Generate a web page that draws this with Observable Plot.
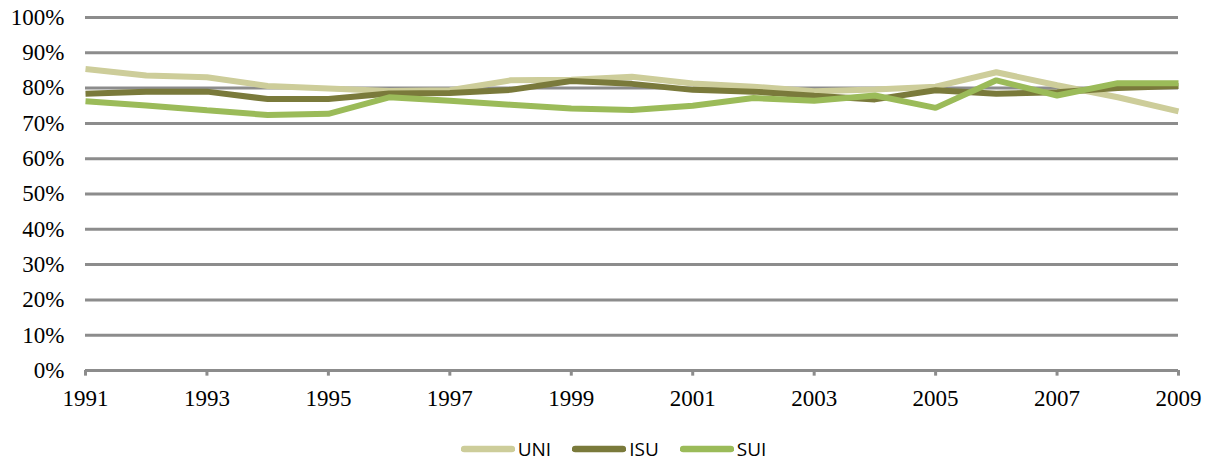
<!DOCTYPE html>
<html>
<head>
<meta charset="utf-8">
<script src="https://cdn.jsdelivr.net/npm/d3@7"></script>
<script src="https://cdn.jsdelivr.net/npm/@observablehq/plot@0.6"></script>
<style>
  body { margin: 0; background: #fff; }
  #chart { width: 1214px; position: relative; }
  .legend { display: flex; justify-content: center; align-items: center; margin-top: 17px; height: 24px;
    font-family: "Open Sans", "Liberation Sans", sans-serif; font-size: 19px; color: #000; padding-left: 34px; }
  .legend span.item { display: flex; align-items: center; gap: 3px; margin-right: 21px; }
  .legend svg { display: block; }
</style>
</head>
<body>
<div id="chart"></div>
<script>
const years = [1991,1992,1993,1994,1995,1996,1997,1998,1999,2000,2001,2002,2003,2004,2005,2006,2007,2008,2009];
const uni = [85.4,83.6,83.1,80.6,79.9,79.2,79.4,82.2,82.4,83.2,81.3,80.4,79.1,79.6,80.4,84.5,80.8,77.4,73.4];
const isu = [78.4,79.0,79.0,76.9,76.9,78.5,78.6,79.5,82.0,81.2,79.5,79.0,77.8,76.8,79.4,78.4,78.8,80.0,80.6];
const sui = [76.3,75.1,73.7,72.4,72.7,77.4,76.4,75.3,74.2,73.8,75.0,77.2,76.4,77.9,74.4,82.2,77.9,81.4,81.4];
const seriesNames = ["UNI","ISU","SUI"];
const seriesColors = ["#cdcd9a","#7a7a3b","#9bbb59"];
const yTicks = [0,0.1,0.2,0.3,0.4,0.5,0.6,0.7,0.8,0.9,1.0];
const xTicks = [1991,1993,1995,1997,1999,2001,2003,2005,2007,2009];

const rows = [];
[uni, isu, sui].forEach((vals, i) => {
  vals.forEach((v, j) => rows.push({series: seriesNames[i], year: years[j], value: v / 100}));
});

const plot = Plot.plot({
  width: 1214,
  height: 420,
  marginLeft: 85,
  marginRight: 36,
  marginTop: 17,
  marginBottom: 50,
  style: {fontFamily: "'Liberation Serif', 'Times New Roman', serif", fontSize: "23px", color: "#000", background: "#fff"},
  x: {domain: [1991, 2009], label: null},
  y: {domain: [0, 1], label: null},
  color: {domain: seriesNames, range: seriesColors},
  marks: [
    Plot.ruleY(yTicks, {stroke: "#8c8c8c", strokeWidth: 3, strokeLinecap: "butt"}),
    Plot.axisY({ticks: yTicks, tickFormat: d3.format(".0%"), tickSize: 0, tickPadding: 21, fontSize: 23, label: null}),
    Plot.ruleX(xTicks, {y1: 0, y2: -0.016, stroke: "#8c8c8c", strokeWidth: 3}),
    Plot.axisX({ticks: xTicks, tickFormat: "d", tickSize: 0, tickPadding: 19, fontSize: 23, label: null}),
    Plot.line(rows, {x: "year", y: "value", z: "series", stroke: "series", strokeWidth: 6, strokeLinejoin: "miter", strokeLinecap: "butt"})
  ]
});
document.getElementById("chart").appendChild(plot);

const legend = document.createElement("div");
legend.className = "legend";
seriesNames.forEach((name, i) => {
  const item = document.createElement("span");
  item.className = "item";
  item.innerHTML = `<svg width="54" height="8"><line x1="3" y1="4" x2="51" y2="4" stroke="${seriesColors[i]}" stroke-width="6.5" stroke-linecap="round"/></svg><span>${name}</span>`;
  legend.appendChild(item);
});
document.getElementById("chart").appendChild(legend);
</script>
</body>
</html>
